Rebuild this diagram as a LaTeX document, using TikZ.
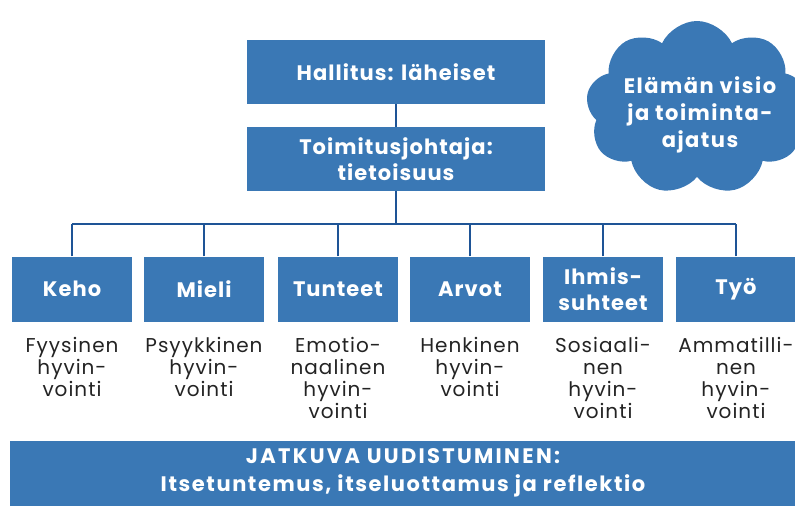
\documentclass[tikz,border=0pt]{standalone}
\usepackage{fontspec}
\setmainfont{Poppins}
\usetikzlibrary{shapes.symbols,positioning}
\definecolor{boxblue}{RGB}{58,120,181}
\definecolor{lineblue}{RGB}{30,84,150}
\definecolor{labelgray}{RGB}{35,35,35}

\begin{document}
\begin{tikzpicture}[x=1pt,y=-1pt,
  box/.style={fill=boxblue,text=white,
    font=\addfontfeature{LetterSpace=5}\bfseries\fontsize{21}{26}\selectfont,
    align=center,minimum width=120pt,minimum height=65pt,inner sep=0pt},
  topbox/.style={box,minimum width=298pt,minimum height=64pt},
  caption/.style={text=labelgray,font=\addfontfeature{LetterSpace=5}\fontsize{20}{22}\selectfont,
    align=center,inner sep=0pt},
  link/.style={draw=lineblue,line width=1.6pt}]
\useasboundingbox (0,0) rectangle (795,506);

% top of the chart
\node[topbox] (board) at (396,72) {Hallitus: läheiset};
\node[topbox] (ceo) at (396,159) {Toimitusjohtaja:\\tietoisuus};
\draw[link] (board) -- (ceo);
\coordinate (bus) at (396,224);
\draw[link] (ceo) -- (ceo |- bus);

% areas of life
\foreach \name/\x/\txt in {keho/72/Keho, mieli/204/Mieli, tunteet/338/Tunteet,
    arvot/470/Arvot, suhteet/603/{Ihmis-\\suhteet}, tyo/736/Työ} {
  \node[box] (\name) at (\x,289) {\txt};
  \draw[link] (\name) -- (\name |- bus);
}
\draw[link] (keho |- bus) -- (tyo |- bus);

% wellbeing under each box
\node[caption,below=15pt of keho] (kehocap) {Fyysinen\\hyvin-\\vointi};
\node[caption,below=15pt of mieli] (mielicap) {Psyykkinen\\hyvin-\\vointi};
\node[caption,below=15pt of tunteet] (tunteetcap) {Emotio-\\naalinen\\hyvin-\\vointi};
\node[caption,below=15pt of arvot] (arvotcap) {Henkinen\\hyvin-\\vointi};
\node[caption,below=15pt of suhteet] (suhteetcap) {Sosiaali-\\nen\\hyvin-\\vointi};
\node[caption,below=15pt of tyo] (tyocap) {Ammatilli-\\nen\\hyvin-\\vointi};

% vision cloud
\node[cloud,cloud puffs=9,cloud puff arc=130,fill=boxblue,
  minimum width=222pt,minimum height=174pt,inner sep=0pt] (vision) at (697,108) {};
\node[text=white,align=center,inner sep=0pt,
  font=\addfontfeature{LetterSpace=7}\bfseries\fontsize{21}{27}\selectfont] (visiontext) at (700,115)
  {Elämän visio\\ja toiminta-\\ajatus};

% renewal banner
\node[fill=boxblue,text=white,minimum width=786pt,minimum height=65pt,align=center,
  font=\addfontfeature{LetterSpace=7.5}\bfseries\fontsize{21}{28}\selectfont] (renewal) at (403,473)
  {{\addfontfeature{LetterSpace=11}JATKUVA UUDISTUMINEN:}\\Itsetuntemus, itseluottamus ja reflektio};
\end{tikzpicture}
\end{document}
